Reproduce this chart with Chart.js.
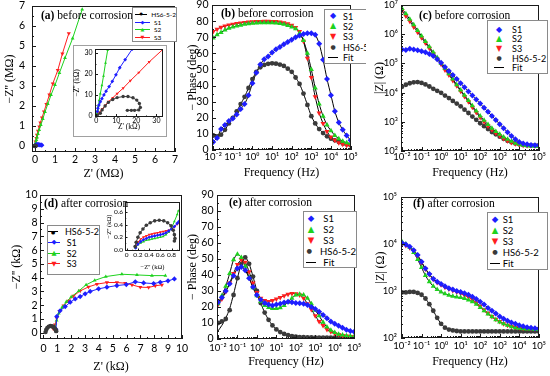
<!DOCTYPE html>
<html><head><meta charset="utf-8"><title>EIS before / after corrosion</title>
<script src="https://cdn.jsdelivr.net/npm/chart.js@4.4.1/dist/chart.umd.min.js"></script>
<style>
html,body{margin:0;background:#fff}
body{position:relative;width:550px;height:376px;overflow:hidden;font-family:Lato,"DejaVu Sans",sans-serif;color:#000}
canvas,.t,.leg,.box,.clip{position:absolute}
.t{font-family:"Liberation Serif","DejaVu Serif",serif;font-size:11.5px;line-height:14px;white-space:nowrap}
.leg{border:1px solid #8a8a8a;background:#fff;box-sizing:border-box}
.r{display:flex;align-items:center;white-space:nowrap}
.m,.ml{display:inline-block;text-align:center;font-family:"DejaVu Sans",sans-serif}
.ml{background:linear-gradient(currentColor,currentColor) center/100% 1px no-repeat}
.box{border:1px solid #a0a0a0;background:#fff;box-sizing:border-box}
.clip{overflow:hidden}
</style></head><body>
<canvas id="ca" width="185" height="185" style="left:0;top:0"></canvas>
<div class="box" style="left:73px;top:45px;width:94px;height:92px"></div>
<canvas id="cai" width="94" height="92" style="left:73px;top:45px"></canvas>
<canvas id="cb" width="185" height="185" style="left:183px;top:0"></canvas>
<canvas id="cc" width="182" height="185" style="left:368px;top:0"></canvas>
<canvas id="cd" width="190" height="188" style="left:0;top:188px"></canvas>
<canvas id="cdi" width="80" height="76" style="left:104px;top:196px"></canvas>
<canvas id="ce" width="185" height="188" style="left:183px;top:188px"></canvas>
<canvas id="cf" width="182" height="188" style="left:368px;top:188px"></canvas>
<div class="t" style="left:41px;top:8px"><b>(a)</b> before corrosion</div>
<div class="t" style="left:221px;top:6px"><b>(b)</b> before corrosion</div>
<div class="t" style="left:419px;top:8px"><b>(c)</b> before corrosion</div>
<div class="t" style="left:44px;top:196px"><b>(d)</b> after corrosion</div>
<div class="t" style="left:229px;top:195px"><b>(e)</b> after corrosion</div>
<div class="t" style="left:413px;top:196px"><b>(f)</b> after corrosion</div>
<div class="clip" id="clipB" style="left:324px;top:9px;width:42px;height:56px"></div>
<script>
// frequency grid (Hz), 5 points per decade
const freq = [0.01, 0.0158, 0.0251, 0.0398, 0.0631, 0.1, 0.158, 0.251, 0.398, 0.631, 1, 1.58, 2.51, 3.98, 6.31, 10, 15.8, 25.1, 39.8, 63.1, 100, 158, 251, 398, 631, 1000, 1580, 2510, 3980, 6310, 10000, 15800, 25100, 39800, 63100, 100000];

// (b) phase before corrosion (deg)
const phaseBeforeS1 = [5, 7.5, 13, 15.5, 18, 19.5, 22, 25.5, 28.5, 34, 41.5, 48, 53, 56.3, 58, 60.5, 62.5, 64, 65.7, 67, 68.5, 70, 71, 72, 72.5, 72.5, 71.5, 66, 56, 44, 34, 24, 17, 12.5, 9, 6];
const phaseBeforeS2 = [69.5, 71.5, 73, 74.5, 75.5, 76.3, 77, 77.5, 78, 78.3, 78.6, 78.8, 79, 79, 79, 79, 78.8, 78.5, 78, 77.3, 76.3, 75.3, 72.5, 68, 60, 50, 38.5, 28.5, 21, 15.5, 12, 9, 7, 5.5, 4.5, 4];
const phaseBeforeS3 = [73.5, 75, 76.2, 77, 77.6, 78, 78.5, 78.9, 79.2, 79.4, 79.6, 79.7, 79.8, 79.9, 79.9, 79.8, 79.7, 79.5, 79, 78.3, 77.5, 76, 73.5, 67.5, 57, 45, 33, 23, 16.5, 11.5, 8, 6, 4.5, 3.5, 3, 2.5];
const phaseBeforeHS = [9, 8.5, 9.5, 12.5, 16.5, 20, 24, 28.5, 33, 38.5, 44, 48.5, 51.3, 52.8, 53.5, 53.8, 53.6, 53, 52.2, 50.5, 48.5, 45, 41, 35, 28, 21, 16.5, 13, 10.5, 8.5, 7, 6, 5, 4, 3.5, 3];

// (c) |Z| before corrosion (ohm)
const zBeforeS1 = [3.0e5, 2.9e5, 3.16e5, 3.0e5, 2.8e5, 2.6e5, 2.4e5, 2.1e5, 1.78e5, 1.38e5, 1.05e5, 7.6e4, 5.5e4, 4.0e4, 2.9e4, 2.1e4, 1.51e4, 1.1e4, 7900, 5800, 4200, 3000, 2200, 1580, 1150, 832, 603, 437, 324, 251, 204, 182, 170, 162, 158, 158];
const zBeforeS2 = [7.6e6, 5.0e6, 3.24e6, 2.09e6, 1.35e6, 8.7e5, 5.6e5, 3.7e5, 2.4e5, 1.58e5, 1.02e5, 6.8e4, 4.4e4, 2.9e4, 1.86e4, 1.23e4, 8100, 5400, 3550, 2340, 1580, 1120, 813, 603, 468, 372, 302, 251, 214, 186, 170, 158, 151, 148, 145, 145];
const zBeforeS3 = [6.3e6, 4.17e6, 2.75e6, 1.78e6, 1.17e6, 7.6e5, 5.0e5, 3.3e5, 2.14e5, 1.41e5, 9.3e4, 6.0e4, 4.0e4, 2.6e4, 1.7e4, 1.12e4, 7400, 4900, 3160, 2090, 1410, 1000, 724, 537, 417, 331, 269, 224, 195, 178, 166, 158, 155, 155, 151, 151];
const zBeforeHS = [1.58e4, 1.86e4, 2.09e4, 2.24e4, 2.29e4, 2.14e4, 1.9e4, 1.62e4, 1.35e4, 1.15e4, 9800, 7900, 6500, 5200, 4200, 3400, 2600, 2000, 1510, 1170, 891, 708, 562, 447, 372, 309, 263, 224, 200, 182, 170, 162, 158, 155, 155, 155];

// (e) phase after corrosion (deg)
const phaseAfterS1 = [23, 26, 30, 34.5, 39.5, 44, 45, 43, 38, 32.5, 27.5, 24.5, 22.5, 21.5, 21, 21.5, 22, 22.8, 23.3, 23, 22.5, 22.3, 22, 21.3, 20, 18.8, 17, 15, 13, 11, 9.5, 8.3, 7, 5.8, 5, 4.5];
const phaseAfterS2 = [22, 27, 33, 41, 49.5, 53, 51, 45.5, 38.5, 32, 27, 23.5, 21, 19.7, 19, 19, 19.5, 21, 23, 25.5, 27.5, 28, 27.5, 25.5, 22, 18, 14.5, 10.5, 7.5, 5.5, 4, 3, 2.5, 2, 1.8, 1.5];
const phaseAfterS3 = [21.5, 25, 29.5, 35, 41, 46.5, 49.5, 48, 42, 35, 29, 25.5, 24, 23.5, 24, 25, 26, 27, 28, 28.5, 28.3, 27.5, 25.5, 22, 18.5, 14.5, 11, 8.5, 6, 4.5, 3.5, 2.8, 2.2, 1.8, 1.5, 1.4];
const phaseAfterHS = [10, 11, 12.5, 18, 27.5, 38, 47, 51, 47, 39, 30, 22.5, 16.5, 12, 8.5, 6, 4.3, 3.2, 2.4, 1.8, 1.4, 1.2, 1.1, 1, 1, 0.9, 0.9, 0.9, 0.9, 0.8, 0.8, 0.8, 0.8, 0.8, 0.8, 0.8];
const phaseAfterHSFit = [5, 8.5, 13, 19, 28, 38, 47, 51, 47, 39, 30, 22.5, 16.5, 12, 8.5, 6, 4.3, 3.2, 2.4, 1.8, 1.4, 1.2, 1.1, 1, 1, 0.9, 0.9, 0.9, 0.9, 0.8, 0.8, 0.8, 0.8, 0.8, 0.8, 0.8];

// (f) |Z| after corrosion (ohm)
const zAfterS1 = [1.05e4, 9800, 8700, 7400, 5800, 4200, 3000, 2290, 1820, 1580, 1410, 1260, 1150, 1070, 1000, 955, 891, 832, 759, 676, 589, 513, 437, 380, 331, 288, 257, 234, 214, 200, 186, 178, 170, 166, 162, 158];
const zAfterS2 = [1.12e4, 1.0e4, 8500, 6600, 4700, 3160, 2140, 1580, 1260, 1070, 955, 871, 813, 776, 741, 724, 692, 646, 589, 525, 447, 380, 324, 282, 245, 219, 200, 186, 174, 166, 162, 158, 155, 155, 151, 151];
const zAfterS3 = [1.0e4, 9300, 8300, 7100, 5500, 4000, 2950, 2240, 1780, 1510, 1350, 1200, 1100, 1020, 955, 891, 813, 741, 661, 562, 479, 398, 339, 288, 251, 224, 200, 186, 178, 170, 166, 162, 162, 158, 158, 158];
const zAfterHS = [933, 933, 955, 955, 912, 832, 692, 525, 380, 269, 200, 166, 151, 145, 141, 138, 138, 138, 138, 138, 138, 138, 138, 138, 138, 138, 138, 138, 138, 138, 138, 138, 138, 138, 138, 138];

// (a) Nyquist before corrosion (MOhm)
const nyqBeforeHSx = [0.002, 0.008, 0.014, 0.02, 0.021, 0.016];
const nyqBeforeHSy = [0.002, 0.006, 0.009, 0.007, 0.004, 0.003];
const nyqBeforeS1x = [0.005, 0.01, 0.03, 0.07, 0.12, 0.18, 0.24, 0.3, 0.34];
const nyqBeforeS1y = [0.01, 0.02, 0.04, 0.06, 0.07, 0.07, 0.06, 0.05, 0.04];
const nyqBeforeS2x = [0.02, 0.04, 0.07, 0.1, 0.15, 0.21, 0.29, 0.39, 0.5, 0.64, 0.8, 1.0, 1.22, 1.5, 1.88, 2.36];
const nyqBeforeS2y = [0.08, 0.18, 0.3, 0.43, 0.6, 0.8, 1.05, 1.35, 1.7, 2.1, 2.55, 3.05, 3.65, 4.4, 5.38, 6.83];
const nyqBeforeS3x = [0.03, 0.07, 0.1, 0.15, 0.22, 0.27, 0.35, 0.45, 0.57, 0.72, 0.89, 1.14, 1.37, 1.69];
const nyqBeforeS3y = [0.22, 0.39, 0.55, 0.75, 0.97, 1.17, 1.42, 1.72, 2.09, 2.56, 3.12, 3.79, 4.62, 5.63];
// (a) inset (kOhm)
const insetBeforeHSx = [0.5, 2.0, 2.9, 4.4, 6.0, 8.2, 10.4, 13.4, 15.8, 18.3, 20.2, 21.5, 22, 21.2, 19.1, 17.5, 15.5];
const insetBeforeHSy = [0.3, 1.2, 2.8, 4.7, 6.4, 7.8, 8.7, 9.2, 9.2, 8.6, 7.5, 5.9, 4.0, 2.8, 2.6, 2.6, 2.6];
const insetBeforeS1x = [0.5, 0.8, 1.3, 2, 2.8, 3.8, 4.9, 6.4, 8, 9.8, 11.7, 14.4, 17.9];
const insetBeforeS1y = [2, 3.6, 5.1, 6.7, 8.2, 10, 11.8, 14, 16.5, 19.6, 23, 26.9, 31.9];
const insetBeforeS2x = [0.3, 0.7, 1, 1.5, 2, 2.8, 3.6, 4.6, 5.7];
const insetBeforeS2y = [1, 2.5, 4.7, 7.5, 10.6, 14.5, 19.1, 25.3, 31.6];
const insetBeforeS3x = [0.5, 1.5, 3, 4.5, 6, 8.2, 10.4, 13.4, 17, 21.2, 26.4, 33];
const insetBeforeS3y = [0.5, 1.6, 3.3, 5, 6.7, 8.6, 10.6, 13.2, 16.8, 20.7, 25.8, 31.6];

// (d) Nyquist after corrosion (kOhm)
const nyqAfterHSx = [0.15, 0.2, 0.28, 0.38, 0.5, 0.62, 0.72, 0.8, 0.86, 0.9, 0.92];
const nyqAfterHSy = [0.05, 0.22, 0.36, 0.45, 0.5, 0.48, 0.42, 0.34, 0.25, 0.17, 0.12];
const nyqAfterS1x = [0.9, 0.96, 1.2, 1.57, 1.93, 2.29, 2.65, 3.01, 3.37, 3.98, 4.58, 5.3, 5.98, 6.63, 7.23, 7.95, 8.43, 8.99, 9.45];
const nyqAfterS1y = [0.25, 1.18, 1.6, 1.9, 2.22, 2.46, 2.63, 2.83, 3.0, 3.19, 3.31, 3.43, 3.5, 3.7, 3.62, 3.57, 3.67, 3.77, 3.91];
const nyqAfterS2x = [0.85, 0.95, 1.1, 1.35, 1.65, 2.0, 2.55, 3.08, 3.7, 4.5, 5.66, 6.75, 7.83, 8.8];
const nyqAfterS2y = [0.3, 0.9, 1.4, 1.85, 2.25, 2.6, 3.04, 3.48, 3.8, 4.08, 4.25, 4.2, 4.15, 4.15];
const nyqAfterS3x = [0.7, 0.84, 0.96, 1.16, 1.45, 1.81, 2.17, 2.65, 3.25, 3.86, 4.58, 5.3, 5.9, 6.39, 6.99, 7.59, 8.07, 8.55];
const nyqAfterS3y = [0.3, 0.58, 1.06, 1.55, 1.96, 2.32, 2.68, 3.04, 3.33, 3.53, 3.65, 3.65, 3.6, 3.48, 3.31, 3.29, 3.41, 3.48];
// (d) inset (kOhm)
const insetAfterHSx = [0.15, 0.17, 0.2, 0.24, 0.29, 0.35, 0.42, 0.5, 0.58, 0.66, 0.73, 0.79, 0.83, 0.85, 0.86, 0.85];
const insetAfterHSy = [0.05, 0.12, 0.2, 0.27, 0.33, 0.39, 0.43, 0.46, 0.47, 0.46, 0.43, 0.38, 0.31, 0.24, 0.18, 0.14];
const insetAfterS1x = [0.16, 0.2, 0.25, 0.3, 0.35, 0.4, 0.45, 0.5, 0.55, 0.6, 0.65, 0.7, 0.75, 0.8, 0.85, 0.9, 0.93];
const insetAfterS1y = [0.03, 0.09, 0.13, 0.16, 0.18, 0.2, 0.21, 0.22, 0.23, 0.24, 0.25, 0.27, 0.3, 0.33, 0.37, 0.42, 0.45];
const insetAfterS2x = [0.16, 0.2, 0.25, 0.3, 0.35, 0.4, 0.45, 0.5, 0.55, 0.6, 0.65, 0.7, 0.75, 0.8, 0.85, 0.9, 0.92];
const insetAfterS2y = [0.03, 0.08, 0.11, 0.13, 0.15, 0.16, 0.17, 0.18, 0.19, 0.2, 0.21, 0.24, 0.28, 0.35, 0.45, 0.56, 0.62];
const insetAfterS3x = [0.16, 0.2, 0.25, 0.3, 0.35, 0.4, 0.45, 0.5, 0.55, 0.6, 0.65, 0.7, 0.75, 0.8, 0.85, 0.9, 0.92];
const insetAfterS3y = [0.05, 0.12, 0.17, 0.2, 0.22, 0.24, 0.25, 0.26, 0.27, 0.28, 0.29, 0.3, 0.31, 0.33, 0.36, 0.41, 0.43];

// tick values
const ticksMOhm = [0, 1, 2, 3, 4, 5, 6, 7];
const ticksInsetA = [0, 10, 20, 30];
const ticksPhase = [0, 10, 20, 30, 40, 50, 60, 70, 80, 90];
const ticksFreq = [0.01, 0.1, 1, 10, 100, 1000, 10000, 100000];
const ticksZBefore = [100, 1000, 10000, 100000, 1e6, 1e7];
const ticksKOhm = [0, 1, 2, 3, 4, 5, 6, 7, 8, 9, 10];
const ticksInsetDx = [0, 0.2, 0.4, 0.6, 0.8];
const ticksInsetDy = [0, 0.2, 0.4, 0.6];
const ticksZAfter = [100, 1000, 10000, 100000];

const SERIF = '"Liberation Serif","DejaVu Serif",serif';
const SANS = 'Lato,"DejaVu Sans",sans-serif';
Chart.defaults.font.family = SANS;
Chart.defaults.color = '#000';

const COL = {S1: '#1e1eff', S2: '#1ed21e', S3: '#ff1e1e', HS: '#3a3a3a'};
const MARK = {S1: ['rectRot', 0], S2: ['triangle', 0], S3: ['triangle', 180], HS: ['circle', 0]};

const sup = n => String(n).replace(/[-0-9]/g, c => '⁻⁰¹²³⁴⁵⁶⁷⁸⁹'['-0123456789'.indexOf(c)]);
const pow10 = v => '10' + sup(Math.round(Math.log10(v)));
const pts = (xs, ys) => xs.map((x, i) => ({x, y: ys[i]}));

function marks(key, xs, ys, r, line) {
  return {data: pts(xs, ys), pointStyle: MARK[key][0], pointRotation: MARK[key][1], pointRadius: r,
    pointBackgroundColor: COL[key], pointBorderWidth: 0, borderColor: COL[key], borderWidth: 1, showLine: !!line};
}
function fitLine(xs, ys) {
  return {data: pts(xs, ys), showLine: true, pointRadius: 0, borderColor: '#000', borderWidth: 1, tension: 0.25};
}

function minorValues(s, step) {
  const out = [];
  if (!step) return out;
  if (step === 'log') {
    for (let e = Math.floor(Math.log10(s.min)); e <= Math.ceil(Math.log10(s.max)); e++)
      for (let m = 2; m < 10; m++) { const v = m * 10 ** e; if (v > s.min && v < s.max) out.push(v); }
  } else {
    for (let v = Math.ceil(s.min / step) * step; v < s.max; v += step) out.push(v);
  }
  return out;
}

// box around the plot area plus inward tick marks on left and bottom
const framePlugin = {
  id: 'frame',
  afterDraw(chart, args, o) {
    const {ctx, chartArea: a} = chart;
    const L = o.len || 4;
    ctx.save();
    ctx.strokeStyle = '#1a1a1a';
    ctx.lineWidth = 1;
    ctx.strokeRect(Math.round(a.left) + 0.5, Math.round(a.top) + 0.5, Math.round(a.right - a.left) - 1, Math.round(a.bottom - a.top) - 1);
    ['x', 'y'].forEach(k => {
      const s = chart.scales[k];
      const tick = (v, len) => {
        const p = Math.round(s.getPixelForValue(v)) + 0.5;
        ctx.beginPath();
        if (k === 'x') { ctx.moveTo(p, a.bottom); ctx.lineTo(p, a.bottom - len); }
        else { ctx.moveTo(a.left, p); ctx.lineTo(a.left + len, p); }
        ctx.stroke();
      };
      s.ticks.forEach(t => tick(t.value, L));
      minorValues(s, o[k]).forEach(v => tick(v, L / 2));
    });
    ctx.restore();
  }
};

function axis(pos, a) {
  return {
    type: a.log ? 'logarithmic' : 'linear', position: pos, min: a.min, max: a.max, bounds: 'data',
    grid: {display: false, drawTicks: false}, border: {display: false},
    ticks: {padding: a.pad, autoSkip: false, maxRotation: 0, color: '#000',
      font: {size: a.fs || 10.5, family: SANS}, callback: a.fmt || (a.log ? pow10 : (v => v))},
    afterBuildTicks: s => { s.ticks = a.ticks.map(v => ({value: v})); },
    afterFit: s => {
      if (pos === 'bottom') s.height = a.size; else s.width = a.size;
      s.paddingTop = s.paddingBottom = s.paddingLeft = s.paddingRight = 0;
    },
    title: {display: true, text: a.title, color: '#000', font: {family: SERIF, size: a.tfs || 12},
      padding: pos === 'bottom' ? {top: 0, bottom: a.tpad} : {top: a.tpad, bottom: 0}}
  };
}

function plot(id, datasets, o) {
  return new Chart(document.getElementById(id), {
    type: 'scatter',
    data: {datasets},
    options: {
      responsive: false, animation: false, events: [],
      layout: {padding: {top: o.top, right: o.right, left: 0, bottom: 0}},
      plugins: {legend: {display: false}, tooltip: {enabled: false}, frame: {x: o.x.minor, y: o.y.minor, len: o.len}},
      scales: {x: axis('bottom', o.x), y: axis('left', o.y)}
    },
    plugins: [framePlugin]
  });
}

function bode(s1, s2, s3, hs, hsFit, r) {
  return [marks('S1', freq, s1, r), marks('S2', freq, s2, r), marks('S3', freq, s3, r), marks('HS', freq, hs, r - 0.6),
    fitLine(freq, s1), fitLine(freq, s2), fitLine(freq, s3), fitLine(freq, hsFit)];
}

// (a)
plot('ca', [
  marks('HS', nyqBeforeHSx, nyqBeforeHSy, 2.2, true),
  marks('S1', nyqBeforeS1x, nyqBeforeS1y, 2.6, true),
  marks('S2', nyqBeforeS2x, nyqBeforeS2y, 2.2, true),
  marks('S3', nyqBeforeS3x, nyqBeforeS3y, 2.4, true)
], {top: 6, right: 10,
  x: {min: -0.15, max: 7, ticks: ticksMOhm, size: 33, pad: 1, title: "Z' (MΩ)", tpad: 4, minor: 0.5},
  y: {min: -0.3, max: 7, ticks: ticksMOhm, size: 32, pad: 7, title: "−Z'' (MΩ)", tpad: 3, minor: 0.5}});

plot('cai', [
  marks('HS', insetBeforeHSx, insetBeforeHSy, 1.7, true),
  marks('S1', insetBeforeS1x, insetBeforeS1y, 1.9, true),
  marks('S2', insetBeforeS2x, insetBeforeS2y, 1.7, true),
  marks('S3', insetBeforeS3x, insetBeforeS3y, 1.8, true)
], {top: 2, right: 3, len: 3,
  x: {min: -0.65, max: 33.3, ticks: ticksInsetA, size: 20, pad: 0, fs: 7, title: "Z' (kΩ)", tfs: 7.5, tpad: 5, minor: 5},
  y: {min: -0.6, max: 32, ticks: ticksInsetA, size: 22, pad: 2.5, fs: 7, title: "−Z'' (kΩ)", tfs: 7.5, tpad: 0, minor: 5}});

// (b)
plot('cb', bode(phaseBeforeS1, phaseBeforeS2, phaseBeforeS3, phaseBeforeHS, phaseBeforeHS, 3), {top: 5, right: 17,
  x: {log: true, min: 0.0087, max: 1.05e5, ticks: ticksFreq, size: 35, pad: 1, fs: 9.5, title: 'Frequency (Hz)', tpad: 5, minor: 'log'},
  y: {min: 0, max: 90, ticks: ticksPhase, size: 29, pad: 3.5, title: '− Phase (deg)', tpad: 3, minor: 5}});

// (c)
plot('cc', bode(zBeforeS1, zBeforeS2, zBeforeS3, zBeforeHS, zBeforeHS, 3), {top: 5, right: 11,
  x: {log: true, min: 0.0089, max: 1.02e5, ticks: ticksFreq, size: 34, pad: 0, fs: 9.5, title: 'Frequency (Hz)', tpad: 5, minor: 'log'},
  y: {log: true, min: 100, max: 1e7, ticks: ticksZBefore, size: 33, pad: 3, fs: 9.5, title: '|Z| (Ω)', tpad: 5, minor: 'log'}});

// (d)
plot('cd', [
  marks('HS', nyqAfterHSx, nyqAfterHSy, 2.2, true),
  marks('S1', nyqAfterS1x, nyqAfterS1y, 2.6, true),
  marks('S2', nyqAfterS2x, nyqAfterS2y, 2.2, true),
  marks('S3', nyqAfterS3x, nyqAfterS3y, 2.4, true)
], {top: 7, right: 8,
  x: {min: -0.25, max: 10, ticks: ticksKOhm, size: 37, pad: 3, title: "Z' (kΩ)", tpad: 2, minor: 0.5},
  y: {min: -0.45, max: 10, ticks: ticksKOhm, size: 40, pad: 2.5, title: "−Z'' (kΩ)", tpad: 10, minor: 0.5}});

const fmt1 = v => v === 0 ? '0' : v.toFixed(1);
plot('cdi', [
  marks('HS', insetAfterHSx, insetAfterHSy, 1.8, true),
  marks('S1', insetAfterS1x, insetAfterS1y, 1.8, true),
  marks('S2', insetAfterS2x, insetAfterS2y, 1.6, true),
  marks('S3', insetAfterS3x, insetAfterS3y, 1.7, true)
], {top: 6, right: 2, len: 2.5,
  x: {min: -0.03, max: 0.95, ticks: ticksInsetDx, size: 21, pad: 0, fs: 6.5, fmt: fmt1, title: "−Z'' (kΩ)", tfs: 6.5, tpad: 1, minor: 0.1},
  y: {min: -0.02, max: 0.76, ticks: ticksInsetDy, size: 21, pad: 2, fs: 6.5, fmt: v => v.toFixed(1), title: "−Z'' (kΩ)", tfs: 6.5, tpad: 1, minor: 0.1}});

// (e)
plot('ce', bode(phaseAfterS1, phaseAfterS2, phaseAfterS3, phaseAfterHS, phaseAfterHSFit, 3), {top: 7, right: 13,
  x: {log: true, min: 0.0089, max: 1.1e5, ticks: ticksFreq, size: 37, pad: 3, fs: 9.5, title: 'Frequency (Hz)', tpad: 7, minor: 'log'},
  y: {min: 0, max: 90, ticks: ticksPhase, size: 34, pad: 3.5, title: '− Phase (deg)', tpad: 3, minor: 5}});

// (f)
plot('cf', bode(zAfterS1, zAfterS2, zAfterS3, zAfterHS, zAfterHS, 3), {top: 9, right: 11,
  x: {log: true, min: 0.0089, max: 1.02e5, ticks: ticksFreq, size: 38, pad: 2.5, fs: 9.5, title: 'Frequency (Hz)', tpad: 7, minor: 'log'},
  y: {log: true, min: 100, max: 1e5, ticks: ticksZAfter, size: 33, pad: 4, fs: 9.5, title: '|Z| (Ω)', tpad: 6, minor: 'log'}});

// legends
function legend(box, rows, o) {
  const d = document.createElement('div');
  d.className = 'leg';
  Object.assign(d.style, {left: box[0] + 'px', top: box[1] + 'px', width: box[2] + 'px', height: box[3] + 'px',
    paddingTop: o.pt + 'px', fontSize: o.fs + 'px'});
  rows.forEach(([glyph, color, label, line, small]) => {
    const r = document.createElement('div');
    r.className = 'r';
    r.style.height = o.rh + 'px';
    const gs = small ? o.gs * 0.75 : o.gs;
    r.innerHTML = `<span class="${line ? 'ml' : 'm'}" style="width:${o.mw}px;height:${o.rh}px;line-height:${o.rh}px;margin-left:${o.ml}px;font-size:${gs}px;color:${color}">${glyph}</span><span style="margin-left:${o.tm}px">${label}</span>`;
    d.appendChild(r);
  });
  (o.parent || document.body).appendChild(d);
}
const rowsBode = [['◆', COL.S1, 'S1'], ['▲', COL.S2, 'S2'], ['▼', COL.S3, 'S3'], ['●', COL.HS, 'HS6-5-2', false, true], ['', '#000', 'Fit', true]];
const rowsNyq = [['●', '#000', 'HS6-5-2', true, true], ['◆', COL.S1, 'S1', true], ['▲', COL.S2, 'S2', true], ['▼', COL.S3, 'S3', true]];

legend([132, 7, 45, 35], rowsNyq, {pt: 3, fs: 6.5, rh: 7.5, mw: 15, ml: 2, gs: 5, tm: 4});
legend([0, 0, 60, 55], rowsBode, {pt: 1, fs: 9, rh: 10.4, mw: 10, ml: 3, gs: 8, tm: 5, parent: document.getElementById('clipB')});
legend([487, 20, 61, 54], rowsBode, {pt: 3.5, fs: 9, rh: 9.6, mw: 10, ml: 6, gs: 8, tm: 8});
legend([47, 225, 53, 50], rowsNyq, {pt: 0.5, fs: 9, rh: 10.7, mw: 12, ml: 0, gs: 6.5, tm: 6.7});
legend([303, 211, 54, 57], rowsBode, {pt: 1, fs: 9.5, rh: 11, mw: 10, ml: 2, gs: 8.5, tm: 7.3});
legend([487, 212, 61, 58], rowsBode, {pt: 0.5, fs: 9.5, rh: 11.2, mw: 10, ml: 2, gs: 8.5, tm: 2.7});
</script>
</body></html>
